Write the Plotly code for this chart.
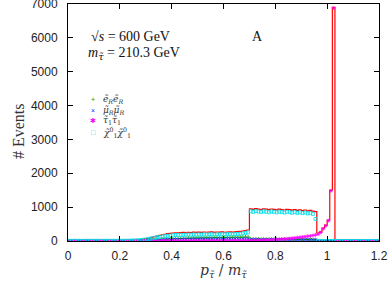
import plotly.graph_objects as go

bin_width = 0.01
n_bins = 120
edges = [round(i * bin_width, 4) for i in range(n_bins + 1)]
centers = [round((i + 0.5) * bin_width, 4) for i in range(n_bins)]

# total (red histogram line)
total = [
    6, 5, 7, 6, 8, 7, 6, 8, 7, 9,
    8, 7, 9, 8, 10, 9, 8, 10, 11, 10,
    12, 11, 13, 14, 16, 18, 22, 30, 42, 55,
    70, 88, 105, 125, 145, 165, 185, 200, 215, 228,
    236, 242, 238, 248, 252, 246, 256, 250, 260, 254,
    262, 255, 266, 258, 262, 270, 256, 266, 260, 268,
    258, 264, 272, 262, 268, 276, 286, 296, 310, 325,
    950, 935, 955, 940, 930, 950, 940, 925, 945, 935,
    920, 940, 930, 915, 935, 925, 910, 930, 905, 920,
    900, 915, 890, 905, 880, 870, 236, 270, 380, 470,
    620, 1500, 6900, 0, 0, 0, 0, 0, 0, 0,
    0, 0, 0, 0, 0, 0, 0, 0, 0, 0,
]

# selectron pairs (green +)
ee = [
    0, 0, 0, 0, 0, 0, 0, 0, 0, 0,
    0, 0, 0, 0, 0, 0, 0, 0, 0, 0,
    0, 0, 0, 0, 0, 2, 4, 7, 10, 14,
    18, 23, 28, 33, 38, 43, 48, 52, 56, 60,
    63, 66, 70, 72, 75, 78, 80, 82, 85, 86,
    88, 90, 92, 93, 95, 96, 98, 100, 101, 103,
    104, 105, 107, 108, 110, 112, 113, 115, 116, 118,
    55, 50, 58, 52, 48, 54, 50, 47, 53, 49,
    51, 46, 52, 48, 45, 50, 47, 44, 49, 46,
    43, 47, 42, 45, 40, 35, 0, 0, 0, 0,
    0, 0, 0, 0, 0, 0, 0, 0, 0, 0,
    0, 0, 0, 0, 0, 0, 0, 0, 0, 0,
]

# smuon pairs (blue x)
mumu = [
    1, 1, 1, 1, 1, 1, 1, 1, 1, 1,
    1, 1, 1, 1, 1, 1, 1, 1, 1, 1,
    2, 2, 3, 4, 5, 6, 8, 10, 12, 15,
    18, 21, 24, 27, 30, 33, 36, 38, 40, 42,
    45, 47, 46, 49, 50, 52, 51, 53, 54, 55,
    56, 55, 57, 58, 56, 59, 58, 60, 59, 60,
    58, 60, 61, 59, 60, 62, 60, 61, 59, 60,
    48, 45, 47, 44, 46, 43, 45, 44, 46, 43,
    44, 42, 45, 43, 41, 44, 42, 40, 43, 41,
    40, 42, 39, 41, 38, 35, 0, 0, 0, 0,
    0, 0, 0, 0, 0, 0, 0, 0, 0, 0,
    0, 0, 0, 0, 0, 0, 0, 0, 0, 0,
]

# stau pairs (magenta *)
tautau = [
    3, 4, 3, 5, 4, 3, 4, 5, 3, 4,
    4, 5, 3, 4, 5, 4, 3, 5, 4, 5,
    4, 5, 4, 5, 6, 4, 5, 6, 5, 4,
    5, 6, 5, 4, 6, 5, 6, 5, 6, 5,
    5, 6, 5, 6, 6, 5, 6, 5, 6, 6,
    5, 6, 6, 5, 6, 6, 5, 6, 6, 6,
    6, 7, 8, 8, 9, 10, 10, 11, 12, 13,
    14, 16, 18, 20, 22, 25, 28, 31, 35, 39,
    44, 49, 55, 61, 68, 75, 83, 92, 101, 110,
    120, 130, 140, 150, 165, 180, 200, 250, 360, 450,
    600, 1480, 6880, 0, 0, 0, 0, 0, 0, 0,
    0, 0, 0, 0, 0, 0, 0, 0, 0, 0,
]

# neutralino pairs (cyan open squares)
chichi = [
    3, 2, 3, 4, 3, 2, 3, 3, 4, 3,
    3, 4, 3, 3, 4, 3, 4, 3, 4, 4,
    4, 5, 6, 8, 10, 13, 17, 22, 30, 40,
    52, 65, 80, 95, 110, 122, 135, 145, 155, 163,
    170, 175, 178, 183, 180, 186, 188, 185, 190, 188,
    192, 188, 195, 190, 194, 198, 192, 196, 193, 199,
    195, 200, 203, 198, 205, 208, 215, 225, 238, 255,
    880, 860, 885, 870, 860, 875, 865, 850, 870, 860,
    845, 865, 855, 840, 860, 850, 835, 855, 830, 845,
    825, 840, 815, 830, 800, 650, 0, 0, 0, 0,
    0, 0, 0, 0, 0, 0, 0, 0, 0, 0,
    0, 0, 0, 0, 0, 0, 0, 0, 0, 0,
]

x_ticks = [0, 0.2, 0.4, 0.6, 0.8, 1.0, 1.2]
x_tick_labels = ["0", "0.2", "0.4", "0.6", "0.8", "1", "1.2"]
y_ticks = [0, 1000, 2000, 3000, 4000, 5000, 6000, 7000]
y_tick_labels = ["0", "1000", "2000", "3000", "4000", "5000", "6000", "7000"]

series = [
    ("<i>ẽ</i><sub><i>R</i></sub><i>ẽ</i><sub><i>R</i></sub>", ee, "#00a000", "cross-thin-open", "+"),
    ("<i>μ̃</i><sub><i>R</i></sub><i>μ̃</i><sub><i>R</i></sub>", mumu, "#2020ff", "x-thin-open", "×"),
    ("<i>τ̃</i><sub>1</sub><i>τ̃</i><sub>1</sub>", tautau, "#ff00ff", "asterisk-open", "✱"),
    ("<i>χ̃</i><sup>0</sup><sub>1</sub><i>χ̃</i><sup>0</sup><sub>1</sub>", chichi, "#00e0e8", "square-open", "□"),
]

fig = go.Figure()

fig.add_trace(go.Scatter(
    x=edges, y=total + [total[-1]], mode="lines", line=dict(color="#ff0000", width=1.2, shape="hv"),
    showlegend=False, hoverinfo="skip",
))

for name, vals, col, sym, glyph in series:
    fig.add_trace(go.Scatter(
        x=centers, y=vals, mode="markers", name=name,
        marker=dict(symbol=sym, size=3, color=col, line=dict(color=col, width=0.8)),
        showlegend=False,
    ))

serif = "DejaVu Serif, serif"
serif2 = "Liberation Serif, DejaVu Serif, serif"
sans = "Liberation Sans, Arial, sans-serif"

def px(xp):
    return (xp - 68) / 311

def py(yp):
    return (241 - yp) / 237

annotations = []
# manual legend
leg_rows = [99, 110, 121, 132]
for (name, vals, col, sym, glyph), ry in zip(series, leg_rows):
    annotations.append(dict(x=px(93), y=py(ry), xref="paper", yref="paper",
                            text=glyph, showarrow=False, xanchor="center", yanchor="middle",
                            font=dict(color=col, size=7, family=sans)))
    annotations.append(dict(x=px(101), y=py(ry), xref="paper", yref="paper",
                            text=name, showarrow=False, xanchor="left", yanchor="middle",
                            font=dict(color="#333", size=9, family=serif)))

annotations += [
    dict(x=px(89), y=py(36), xref="paper", yref="paper",
         text="√<i>s</i> = 600 GeV", showarrow=False, xanchor="left", yanchor="middle",
         font=dict(size=14, family=serif2, color="#111")),
    dict(x=px(86), y=py(53), xref="paper", yref="paper",
         text="<i>m</i><sub><span style='font-family:DejaVu Serif'><i>τ̃</i></span></sub> = 210.3 GeV",
         showarrow=False, xanchor="left", yanchor="middle",
         font=dict(size=14, family=serif2, color="#111")),
    dict(x=px(257), y=py(36), xref="paper", yref="paper",
         text="A", showarrow=False, xanchor="center", yanchor="middle",
         font=dict(size=14, family=serif2, color="#111")),
    # axis titles
    dict(x=px(223), y=py(271), xref="paper", yref="paper",
         text="<i>p</i><sub><i>τ̃</i></sub> / <i>m</i><sub><i>τ̃</i></sub>", showarrow=False,
         xanchor="center", yanchor="middle", font=dict(size=14, family=serif, color="#333")),
    dict(x=px(18), y=py(131), xref="paper", yref="paper",
         text="# Events", showarrow=False, textangle=-90,
         xanchor="center", yanchor="middle", font=dict(size=16, family=serif2, color="#333")),
]

axis_common = dict(
    showgrid=False, zeroline=False, showline=True, linecolor="black", linewidth=1,
    mirror="allticks", ticks="inside", ticklen=5, tickcolor="black", tickwidth=1,
    tickfont=dict(family=sans, size=12, color="#222"), automargin=False,
    ticklabeloverflow="allow",
)

fig.update_layout(
    width=390, height=284,
    margin=dict(l=68, r=11, t=4, b=43, autoexpand=False),
    paper_bgcolor="white", plot_bgcolor="white",
    showlegend=False,
    xaxis=dict(range=[0, 1.2], tickvals=x_ticks, ticktext=x_tick_labels, ticklabelstandoff=4,
               **axis_common),
    yaxis=dict(range=[0, 7000], tickvals=y_ticks, ticktext=y_tick_labels, ticklabelstandoff=7,
               **axis_common),
    annotations=annotations,
)

fig.write_html("out.html", config={"displayModeBar": False},
               post_script="document.body.style.margin='0';document.body.style.padding='0';")
